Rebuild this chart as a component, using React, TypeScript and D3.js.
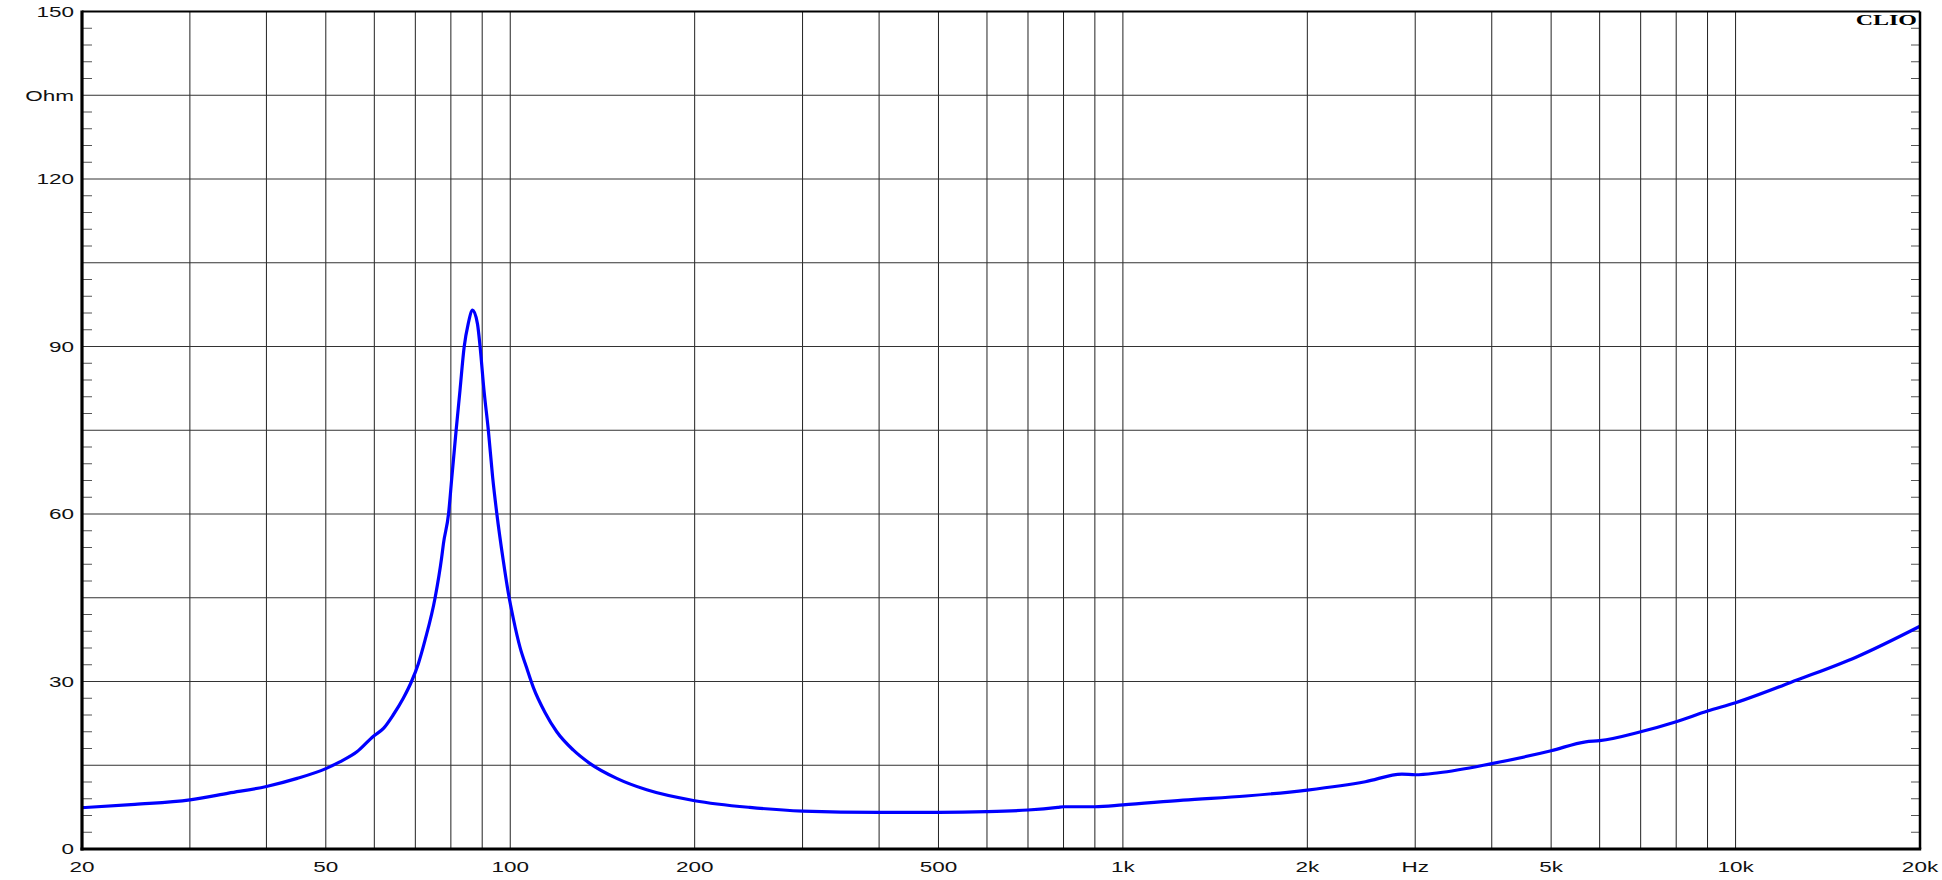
import React from "react";
import * as d3 from "d3";

// ---- data ----
const freqs = [
  20, 24.4, 30, 34.7, 40, 44.9, 50, 52.7, 56.2, 59.8, 62.1, 64.4, 66.9, 69.0, 70.8, 72.6, 75.4,
  77.3, 77.8, 79.3, 80.3, 81.6, 82.8, 84.1, 85.4, 86.8, 88.4, 89.3, 90.6, 92.1, 93.6, 95.1, 97.4,
  99.3, 101.2, 103.7, 106.4, 109.1, 113.9, 119.1, 126.8, 135, 149.2, 167, 200, 246, 300, 400, 500,
  600, 700, 783, 800, 900, 1000, 1254, 1588, 2000, 2487, 2854, 3000, 3276, 4000, 5000, 5694, 6000,
  7000, 8000, 9000, 10000, 12592, 15758, 20000,
];
const impedance = [
  7.4, 8.0, 8.8, 10.0, 11.2, 12.65, 14.4, 15.6, 17.4, 20.2, 21.6, 24.0, 27.0, 30.0, 33.2, 37.4,
  45.0, 52.3, 54.7, 60.0, 66.6, 75.0, 82.2, 89.9, 94.1, 96.5, 94.1, 89.9, 82.2, 75.0, 66.6, 60.0,
  51.7, 45.8, 41.2, 36.2, 32.4, 28.9, 24.5, 21.0, 17.7, 15.3, 12.65, 10.6, 8.65, 7.45, 6.8, 6.56,
  6.56, 6.68, 6.98, 7.45, 7.57, 7.57, 7.9, 8.77, 9.49, 10.56, 12.05, 13.42, 13.3, 13.66, 15.3, 17.6,
  19.2, 19.4, 21.0, 22.8, 24.7, 26.2, 30.25, 34.4, 39.9,
];
const xGridFreqs = [
  30, 40, 50, 60, 70, 80, 90, 100, 200, 300, 400, 500, 600, 700, 800, 900, 1000, 2000, 3000, 4000,
  5000, 6000, 7000, 8000, 9000, 10000,
];
const xTickValues = [20, 50, 100, 200, 500, 1000, 2000, 3000, 5000, 10000, 20000];
const xTickLabels = ["20", "50", "100", "200", "500", "1k", "2k", "Hz", "5k", "10k", "20k"];
const yGridValues = [15, 30, 45, 60, 75, 90, 105, 120, 135];
const yTickValues = [0, 30, 60, 90, 120, 135, 150];
const yTickLabels = ["0", "30", "60", "90", "120", "Ohm", "150"];

const W = 1942;
const H = 880;
const L = 82;
const R = 1920;
const T = 11.5;
const B = 849;

export default function App() {
  const x = d3.scaleLog().domain([20, 20000]).range([L, R]);
  const y = d3.scaleLinear().domain([0, 150]).range([B, T]);
  const pts: [number, number][] = freqs.map((f, i) => [f, impedance[i]]);
  const line = d3
    .line<[number, number]>()
    .x((d) => x(d[0]))
    .y((d) => y(d[1]))
    .curve(d3.curveMonotoneX);
  const minor = d3.range(3, 150, 3).filter((v) => v % 15 !== 0);
  const font = "'Liberation Sans', Arial, sans-serif";

  return (
    <svg
      width={W}
      height={H}
      style={{ position: "absolute", left: 0, top: 0, background: "#fff" }}
    >
      <rect x={0} y={0} width={W} height={H} fill="#fff" />
      {/* vertical grid */}
      {xGridFreqs.map((f) => (
        <line key={"vx" + f} x1={x(f)} x2={x(f)} y1={T} y2={B} stroke="#222" strokeWidth={1} />
      ))}
      {/* horizontal grid */}
      {yGridValues.map((v) => (
        <line key={"hy" + v} x1={L} x2={R} y1={y(v)} y2={y(v)} stroke="#333" strokeWidth={1} />
      ))}
      {/* minor ticks left and right */}
      {minor.map((v) => (
        <g key={"mt" + v}>
          <line x1={L} x2={L + 10} y1={y(v)} y2={y(v)} stroke="#555" strokeWidth={1} />
          <line x1={R - 9} x2={R} y1={y(v)} y2={y(v)} stroke="#555" strokeWidth={1} />
        </g>
      ))}
      {/* curve */}
      <path d={line(pts) || ""} fill="none" stroke="#0000ff" strokeWidth={3.2} strokeLinejoin="round" />
      {/* frame */}
      <line x1={L} x2={R} y1={T} y2={T} stroke="#000" strokeWidth={2} />
      <line x1={R} x2={R} y1={T} y2={B} stroke="#000" strokeWidth={2.5} />
      <line x1={L} x2={L} y1={T - 1} y2={B + 1.5} stroke="#000" strokeWidth={3.2} />
      <line x1={L - 1.5} x2={R + 1.2} y1={B} y2={B} stroke="#000" strokeWidth={3} />
      {/* y labels */}
      {yTickValues.map((v, i) => (
        <text
          key={"yl" + v}
          transform={`translate(74,${y(v) + 5.3}) scale(1.5,1)`}
          textAnchor="end"
          fontFamily={font}
          fontSize={15}
          fill="#111"
        >
          {yTickLabels[i]}
        </text>
      ))}
      {/* x labels */}
      {xTickValues.map((f, i) => (
        <text
          key={"xl" + f}
          transform={`translate(${x(f)},872) scale(1.5,1)`}
          textAnchor="middle"
          fontFamily={font}
          fontSize={15}
          fill="#111"
        >
          {xTickLabels[i]}
        </text>
      ))}
      {/* CLIO */}
      <text
        transform="translate(1917,25) scale(1.6,1)"
        textAnchor="end"
        fontFamily="'Liberation Serif', 'Times New Roman', serif"
        fontWeight="bold"
        fontSize={15}
        fill="#000"
      >
        CLIO
      </text>
    </svg>
  );
}
